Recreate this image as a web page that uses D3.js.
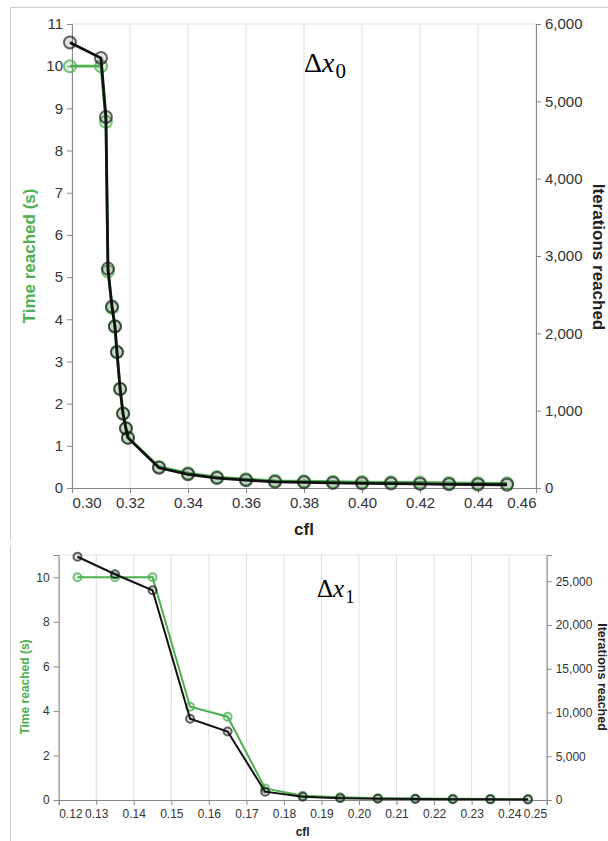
<!DOCTYPE html>
<html><head><meta charset="utf-8">
<script src="https://cdn.jsdelivr.net/npm/d3@7"></script>
<style>body{margin:0;background:#fff}svg{display:block}</style>
</head><body><svg id="c" width="608" height="841"></svg>
<script>
// ---- Data: Δx0 ----
const cfl0 = [0.2993,0.310,0.3117,0.3124,0.3138,0.3148,0.3155,0.3166,0.3176,0.3186,0.3193,0.33,0.34,0.35,0.36,0.37,0.38,0.39,0.40,0.41,0.42,0.43,0.44,0.45];
const time0 = [10.0,10.0,8.68,5.14,4.27,3.82,3.22,2.35,1.77,1.42,1.20,0.50,0.35,0.26,0.21,0.17,0.16,0.15,0.14,0.135,0.13,0.12,0.115,0.11];
const iter0 = [5760,5560,4797,2837,2346,2092,1759,1280,961,768,648,261,177,128,101,79,73,66,60,57,53,48,45,42];
const xTicks0 = [0.30,0.32,0.34,0.36,0.38,0.40,0.42,0.44,0.46];
const yLTicks0 = [0,1,2,3,4,5,6,7,8,9,10,11];
const yRTicks0 = [0,1000,2000,3000,4000,5000,6000];
// ---- Data: Δx1 ----
const cfl1 = [0.125,0.135,0.145,0.155,0.165,0.175,0.185,0.195,0.205,0.215,0.225,0.235,0.245];
const time1 = [10.0,10.0,10.0,4.19,3.74,0.52,0.19,0.12,0.08,0.07,0.06,0.05,0.045];
const iter1 = [27800,25800,23970,9280,7820,950,380,214,136,113,93,74,64];
const xTicks1 = [0.12,0.13,0.14,0.15,0.16,0.17,0.18,0.19,0.20,0.21,0.22,0.23,0.24,0.25];
const yLTicks1 = [0,2,4,6,8,10];
const yRTicks1 = [0,5000,10000,15000,20000,25000];

const GREEN = "#4caf50", BLACK = "#111";
const svg = d3.select("#c");
const FONT = "'Liberation Sans', Arial, Helvetica, sans-serif";

// frame
svg.append("line").attr("x1",10.5).attr("x2",608).attr("y1",7.5).attr("y2",7.5).attr("stroke","#ccc");
svg.append("line").attr("x1",10.5).attr("x2",10.5).attr("y1",7.5).attr("y2",541).attr("stroke","#ccc");
svg.append("line").attr("x1",10.5).attr("x2",10.5).attr("y1",546).attr("y2",841).attr("stroke","#ccc");

function chart(o){
  const g = svg.append("g");
  const x = d3.scaleLinear().domain(o.xDom).range([o.x0,o.x1]);
  const yL = d3.scaleLinear().domain(o.yLDom).range([o.y1,o.y0]);
  const yR = d3.scaleLinear().domain(o.yRDom).range([o.y1,o.y0]);
  // grid
  g.append("g").selectAll("line").data(o.xTicks).join("line")
    .attr("x1",d=>x(d)).attr("x2",d=>x(d)).attr("y1",o.y0).attr("y2",o.y1)
    .attr("stroke","#ddd").attr("stroke-width",1);
  g.append("line").attr("x1",o.x0).attr("x2",o.x1).attr("y1",o.y0).attr("y2",o.y0).attr("stroke","#ddd");
  // axes
  const ax = g.append("g").attr("transform",`translate(0,${o.y1})`)
    .call(d3.axisBottom(x).tickValues(o.xTicks).tickFormat(d3.format(".2f")).tickSize(5).tickPadding(4));
  const n = o.xTicks.length;
  ax.selectAll(".tick text").attr("text-anchor",(d,i)=> i===0?"start": (i===n-1?"end":"middle"));
  const al = g.append("g").attr("transform",`translate(${o.x0},0)`)
    .call(d3.axisLeft(yL).tickValues(o.yLTicks).tickFormat(d3.format("d")).tickSize(5).tickPadding(4));
  const ar = g.append("g").attr("transform",`translate(${o.x1},0)`)
    .call(d3.axisRight(yR).tickValues(o.yRTicks).tickFormat(d3.format(",")).tickSize(5).tickPadding(4));
  [ax,al,ar].forEach(a=>{
    a.selectAll("path").attr("stroke","#888");
    a.selectAll("line").attr("stroke","#888");
    a.selectAll("text").attr("fill","#333").style("font-family",FONT).style("font-size",o.fs+"px");
  });
  // lines
  const lt = d3.line().x((d,i)=>x(o.cfl[i])).y(d=>yL(d));
  const li = d3.line().x((d,i)=>x(o.cfl[i])).y(d=>yR(d));
  g.append("path").datum(o.time).attr("d",lt).attr("fill","none").attr("stroke",GREEN).attr("stroke-width",o.lw);
  g.append("g").selectAll("circle").data(o.time).join("circle")
    .attr("cx",(d,i)=>x(o.cfl[i])).attr("cy",d=>yL(d)).attr("r",o.r)
    .attr("fill",GREEN).attr("fill-opacity",0.15).attr("stroke",GREEN).attr("stroke-width",2).attr("stroke-opacity",0.75);
  g.append("path").datum(o.iter).attr("d",li).attr("fill","none").attr("stroke",BLACK).attr("stroke-width",o.lw);
  g.append("g").selectAll("circle").data(o.iter).join("circle")
    .attr("cx",(d,i)=>x(o.cfl[i])).attr("cy",d=>yR(d)).attr("r",o.r)
    .attr("fill",BLACK).attr("fill-opacity",0.12).attr("stroke",BLACK).attr("stroke-width",2).attr("stroke-opacity",0.65);
  // titles
  g.append("text").attr("transform",`translate(${o.ltx},${o.lty}) rotate(-90)`).attr("text-anchor","middle")
    .attr("dominant-baseline","central").attr("fill",GREEN).style("font-family",FONT).style("font-weight","bold")
    .style("font-size",o.tfs+"px").text("Time reached (s)");
  g.append("text").attr("transform",`translate(${o.rtx},${o.rty}) rotate(90)`).attr("text-anchor","middle")
    .attr("dominant-baseline","central").attr("fill","#222").style("font-family",FONT).style("font-weight","bold")
    .style("font-size",o.rtfs+"px").text("Iterations reached");
  g.append("text").attr("x",(o.x0+o.x1)/2).attr("y",o.cy).attr("text-anchor","middle")
    .attr("dominant-baseline","central").attr("fill","#222").style("font-family",FONT).style("font-weight","bold")
    .style("font-size",o.tfs+"px").text("cfl");
  // Δx label
  const t = g.append("text").attr("x",o.dx).attr("y",o.dy).attr("fill","#000")
    .style("font-family","'Liberation Serif','DejaVu Serif',serif").style("font-size",o.dfs+"px");
  t.append("tspan").text("Δ");
  t.append("tspan").style("font-style","italic").text("x");
  t.append("tspan").attr("dy",o.dfs*0.22).attr("dx",1).style("font-size",(o.dfs*0.75)+"px").text(o.sub);
}

chart({cfl:cfl0,time:time0,iter:iter0,xTicks:xTicks0,yLTicks:yLTicks0,yRTicks:yRTicks0,
  xDom:[0.30,0.46],yLDom:[0,11],yRDom:[0,6000],x0:72,x1:536,y0:24,y1:488,
  fs:15,tfs:17,rtfs:17,lw:2.8,r:6,ltx:29,lty:256,rtx:598,rty:257,cy:529,dx:304,dy:72,dfs:28,sub:"0"});
chart({cfl:cfl1,time:time1,iter:iter1,xTicks:xTicks1,yLTicks:yLTicks1,yRTicks:yRTicks1,
  xDom:[0.12,0.25],yLDom:[0,11],yRDom:[0,28000],x0:58.7,x1:546.7,y0:555,y1:800,
  fs:12,tfs:12,rtfs:12.5,lw:2,r:4,ltx:25,lty:687,rtx:602,rty:677,cy:832,dx:317,dy:597,dfs:25,sub:"1"});
</script></body></html>
